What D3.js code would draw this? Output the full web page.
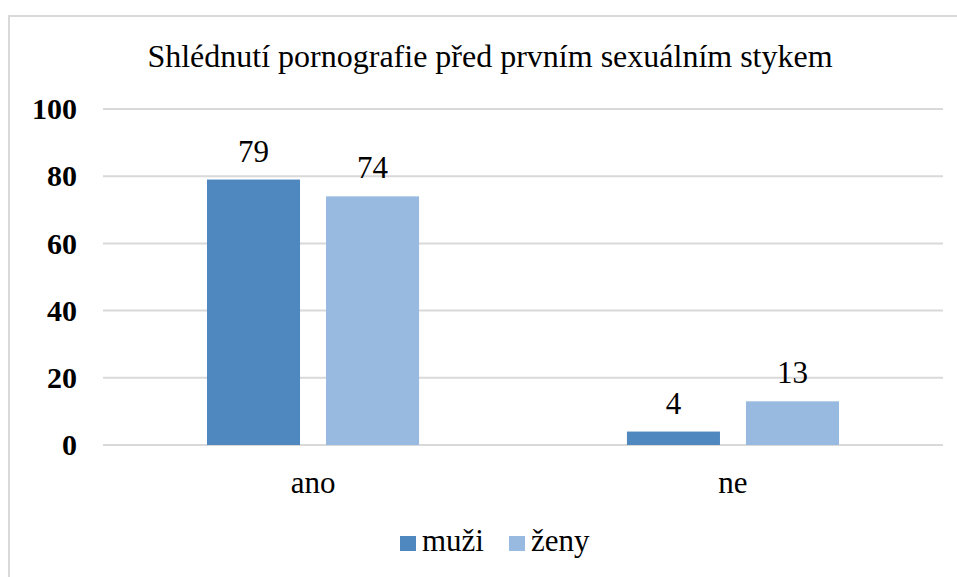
<!DOCTYPE html>
<html>
<head>
<meta charset="utf-8">
<script src="https://cdn.jsdelivr.net/npm/d3@7"></script>
<style>
  body { margin: 0; background: #fff; }
</style>
</head>
<body>
<div id="chart"></div>
<script>
const categories = ["ano", "ne"];
const seriesNames = ["muži", "ženy"];
const muzi = [79, 4];
const zeny = [74, 13];
const yTicks = [0, 20, 40, 60, 80, 100];
const colors = ["#4f88bf", "#98b9e0"];

const FONT = '"Liberation Serif", "Times New Roman", serif';
const W = 957, H = 577;
const margin = { left: 103, right: 14, top: 109, bottom: 132 };

const svg = d3.select("#chart").append("svg")
    .attr("width", W)
    .attr("height", H)
    .style("font-family", FONT);

// frame of the chart area
svg.append("path")
    .attr("d", `M9,${H} L9,16 L${W},16`)
    .attr("fill", "none")
    .attr("stroke", "#d9d9d9")
    .attr("stroke-width", 2);

const x0 = d3.scaleBand()
    .domain(categories)
    .range([margin.left, W - margin.right])
    .paddingInner(0.495)
    .paddingOuter(0.2476);

const x1 = d3.scaleBand()
    .domain(seriesNames)
    .range([0, x0.bandwidth()])
    .paddingInner(0.2185);

const y = d3.scaleLinear()
    .domain([0, 100])
    .range([H - margin.bottom, margin.top]);

// gridlines
svg.append("g")
    .selectAll("line")
    .data(yTicks)
    .join("line")
    .attr("x1", margin.left)
    .attr("x2", W - margin.right)
    .attr("y1", d => y(d))
    .attr("y2", d => y(d))
    .attr("stroke", "#d9d9d9")
    .attr("stroke-width", 2);

// y axis labels
const yAxis = svg.append("g")
    .attr("transform", `translate(${margin.left},0)`)
    .call(d3.axisLeft(y).tickValues(yTicks).tickSize(0).tickPadding(26));
yAxis.attr("font-family", null).attr("font-size", null);
yAxis.select(".domain").remove();
yAxis.selectAll("text")
    .style("font-family", FONT)
    .style("font-size", "30px")
    .style("font-weight", "bold")
    .attr("fill", "#000");

// x axis labels
const xAxis = svg.append("g")
    .attr("transform", `translate(0,${y(0)})`)
    .call(d3.axisBottom(x0).tickSize(0).tickPadding(26));
xAxis.attr("font-family", null).attr("font-size", null);
xAxis.select(".domain").remove();
xAxis.selectAll("text")
    .style("font-family", FONT)
    .style("font-size", "31px")
    .attr("fill", "#000");

const rows = categories.map((c, i) => ({ cat: c, vals: [muzi[i], zeny[i]] }));

const groups = svg.append("g")
    .selectAll("g")
    .data(rows)
    .join("g")
    .attr("transform", d => `translate(${x0(d.cat)},0)`);

groups.selectAll("rect")
    .data(d => d.vals.map((v, j) => ({ s: seriesNames[j], v: v, j: j })))
    .join("rect")
    .attr("x", d => x1(d.s))
    .attr("y", d => y(d.v))
    .attr("width", x1.bandwidth())
    .attr("height", d => y(0) - y(d.v))
    .attr("fill", d => colors[d.j]);

groups.selectAll("text.val")
    .data(d => d.vals.map((v, j) => ({ s: seriesNames[j], v: v })))
    .join("text")
    .attr("class", "val")
    .attr("x", d => x1(d.s) + x1.bandwidth() / 2)
    .attr("y", d => y(d.v) - 18)
    .attr("text-anchor", "middle")
    .style("font-family", FONT)
    .style("font-size", "31px")
    .text(d => d.v);

// title
svg.append("text")
    .attr("x", 490)
    .attr("y", 67)
    .attr("text-anchor", "middle")
    .style("font-family", FONT)
    .style("font-size", "32px")
    .text("Shlédnutí pornografie před prvním sexuálním stykem");

// legend
const legend = svg.append("g").attr("transform", "translate(400,536)");
const item = legend.selectAll("g")
    .data(seriesNames)
    .join("g")
    .attr("transform", (d, i) => `translate(${i * 109},0)`);
item.append("rect")
    .attr("width", 16)
    .attr("height", 15)
    .attr("fill", (d, i) => colors[i]);
item.append("text")
    .attr("x", 22)
    .attr("y", 15)
    .style("font-family", FONT)
    .style("font-size", "31px")
    .text(d => d);
</script>
</body>
</html>
